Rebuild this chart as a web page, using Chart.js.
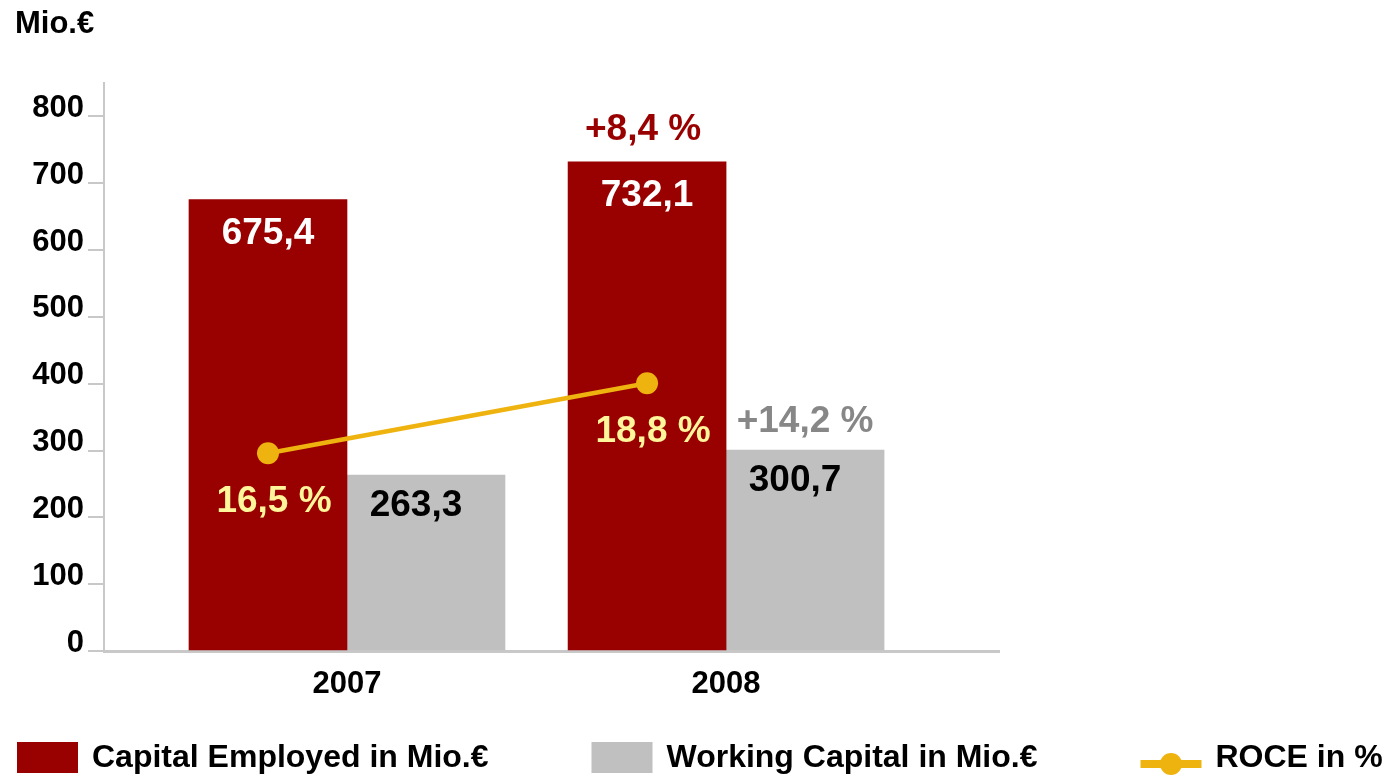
<!DOCTYPE html>
<html>
<head>
<meta charset="utf-8">
<title>Capital Employed / Working Capital / ROCE</title>
<script src="https://cdn.jsdelivr.net/npm/chart.js@4.4.1/dist/chart.umd.min.js"></script>
<style>
  html, body { margin: 0; padding: 0; background: #fff; }
  #contenedor { width: 1387px; height: 778px; position: relative; }
</style>
</head>
<body>
<div id="contenedor"><canvas id="grafico"></canvas></div>
<script>
// datos
const years = [2007, 2008];
const capitalEmployed = [675.4, 732.1];
const workingCapital = [263.3, 300.7];
const roce = [16.5, 18.8];
const capitalGrowth = [null, 8.4];
const workingGrowth = [null, 14.2];
const yTicks = [0, 100, 200, 300, 400, 500, 600, 700, 800];

const FUENTE = "'Liberation Sans', Arial, sans-serif";
const ROJO = '#990000';
const GRIS = '#C0C0C0';
const AMARILLO = '#EFB30F';
const EJE = '#C8C8C8';

// rango del eje x (en anios) para que las barras caigan como en el original
const xMin = 2006.359;
const xMax = 2008.720;

function formatear(v) {
    return v.toFixed(1).replace('.', ',');
}

const etiquetasPlugin = {
    id: 'etiquetas',
    // los puntos del ROCE van centrados sobre la barra de Capital Employed
    afterDatasetsUpdate(chart) {
        const capMeta = chart.getDatasetMeta(0);
        const roceMeta = chart.getDatasetMeta(2);
        roceMeta.data.forEach((pt, i) => {
            if (capMeta.data[i]) pt.x = capMeta.data[i].x;
        });
    },
    afterDatasetsDraw(chart) {
        const ctx = chart.ctx;
        const capMeta = chart.getDatasetMeta(0);
        const wcMeta = chart.getDatasetMeta(1);
        const roceMeta = chart.getDatasetMeta(2);
        ctx.save();
        ctx.textAlign = 'center';
        ctx.textBaseline = 'middle';
        ctx.font = `bold 37px ${FUENTE}`;

        capMeta.data.forEach((bar, i) => {
            ctx.fillStyle = '#FFFFFF';
            ctx.fillText(formatear(capitalEmployed[i]), bar.x, bar.y + 34);
            if (capitalGrowth[i] !== null) {
                ctx.fillStyle = ROJO;
                ctx.fillText(`+${formatear(capitalGrowth[i])} %`, bar.x - 4, bar.y - 32);
            }
        });
        wcMeta.data.forEach((bar, i) => {
            ctx.fillStyle = '#000000';
            ctx.fillText(formatear(workingCapital[i]), bar.x - 10, bar.y + 31);
            if (workingGrowth[i] !== null) {
                ctx.fillStyle = '#878787';
                ctx.fillText(`+${formatear(workingGrowth[i])} %`, bar.x, bar.y - 28);
            }
        });
        roceMeta.data.forEach((pt, i) => {
            ctx.fillStyle = '#FFF59A';
            ctx.fillText(`${formatear(roce[i])} %`, pt.x + 6, pt.y + 49);
        });
        ctx.restore();
    },
    afterDraw(chart) {
        const ctx = chart.ctx;
        ctx.save();
        // unidad arriba a la izquierda
        ctx.fillStyle = '#000';
        ctx.textAlign = 'left';
        ctx.textBaseline = 'middle';
        ctx.font = `bold 31px ${FUENTE}`;
        ctx.fillText('Mio.€', 15, 24);

        // leyenda
        ctx.font = `bold 32px ${FUENTE}`;
        let x = 17;
        const y = 758;
        chart.data.datasets.forEach(ds => {
            if (ds.type === 'line') {
                ctx.strokeStyle = ds.borderColor;
                ctx.lineWidth = 8;
                ctx.beginPath();
                ctx.moveTo(x, y + 6);
                ctx.lineTo(x + 61, y + 6);
                ctx.stroke();
                ctx.fillStyle = ds.borderColor;
                ctx.beginPath();
                ctx.arc(x + 30.5, y + 6, 11, 0, Math.PI * 2);
                ctx.fill();
            } else {
                ctx.fillStyle = ds.backgroundColor;
                ctx.fillRect(x, y - 16, 61, 31);
            }
            ctx.fillStyle = '#000';
            ctx.fillText(ds.label, x + 75, y);
            x += 75 + ctx.measureText(ds.label).width + 103;
        });
        ctx.restore();
    }
};

const ctx = document.getElementById('grafico').getContext('2d');
new Chart(ctx, {
    type: 'bar',
    data: {
        datasets: [
            {
                label: 'Capital Employed in Mio.€',
                data: years.map((a, i) => ({ x: a, y: capitalEmployed[i] })),
                backgroundColor: ROJO,
                barThickness: 158,
                order: 1
            },
            {
                label: 'Working Capital in Mio.€',
                data: years.map((a, i) => ({ x: a, y: workingCapital[i] })),
                backgroundColor: GRIS,
                barThickness: 158,
                order: 1
            },
            {
                type: 'line',
                label: 'ROCE in %',
                data: years.map((a, i) => ({ x: a, y: roce[i] })),
                yAxisID: 'y2',
                borderColor: AMARILLO,
                backgroundColor: AMARILLO,
                borderWidth: 4.5,
                pointRadius: 11,
                pointBackgroundColor: AMARILLO,
                pointBorderWidth: 0,
                fill: false,
                order: 0
            }
        ]
    },
    options: {
        responsive: true,
        maintainAspectRatio: false,
        animation: false,
        layout: { padding: { top: 83, right: 388, bottom: 0, left: 0 } },
        plugins: {
            legend: { display: false },
            tooltip: { enabled: false }
        },
        scales: {
            x: {
                type: 'linear',
                min: xMin,
                max: xMax,
                offset: false,
                afterBuildTicks: axis => { axis.ticks = years.map(v => ({ value: v })); },
                afterFit: axis => { axis.height = 127; },
                grid: { display: true, drawOnChartArea: false, drawTicks: false },
                border: { display: true, color: EJE, width: 3 },
                ticks: {
                    padding: 15,
                    color: '#000',
                    font: { family: FUENTE, size: 31, weight: 'bold' },
                    maxRotation: 0,
                    autoSkip: false,
                    callback: v => String(v)
                }
            },
            y: {
                type: 'linear',
                min: 0,
                max: 850,
                afterBuildTicks: axis => { axis.ticks = yTicks.map(v => ({ value: v })); },
                afterFit: axis => { axis.width = 104; },
                grid: { drawOnChartArea: false, drawTicks: true, tickLength: 16, color: EJE, lineWidth: 2 },
                border: { display: true, color: EJE, width: 2 },
                ticks: {
                    padding: 4,
                    labelOffset: -8,
                    color: '#000',
                    font: { family: FUENTE, size: 31, weight: 'bold' },
                    callback: v => String(v)
                }
            },
            y2: {
                type: 'linear',
                display: false,
                min: 10,
                max: 28.67
            }
        }
    },
    plugins: [etiquetasPlugin]
});
</script>
</body>
</html>
